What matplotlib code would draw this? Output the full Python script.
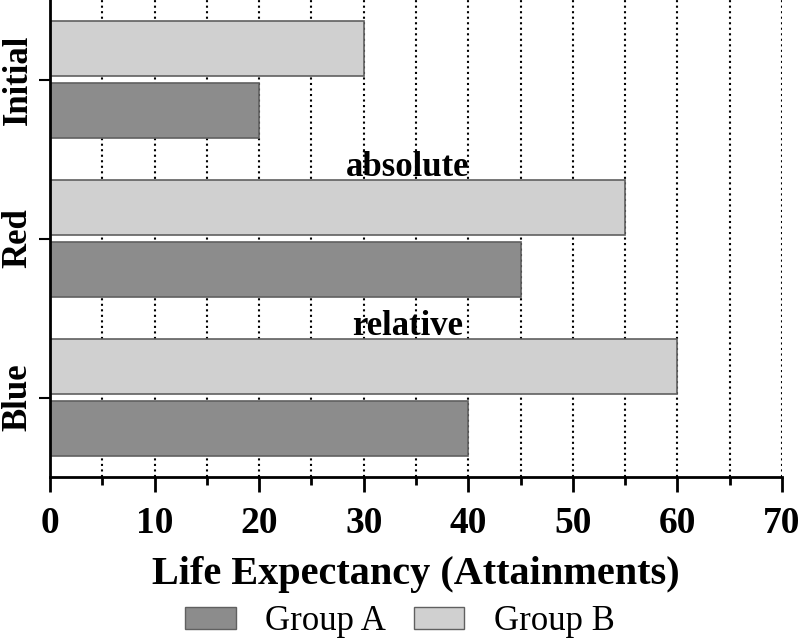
import matplotlib.pyplot as plt
from matplotlib.ticker import MultipleLocator
from matplotlib.patches import Patch

categories = ['Initial', 'Red', 'Blue']
group_a = [20, 45, 40]
group_b = [30, 55, 60]
annotations = {'Red': 'absolute', 'Blue': 'relative'}

color_a = '#8c8c8c'
color_b = '#d0d0d0'
edge = '#606060'

plt.rcParams['font.family'] = ['Liberation Serif', 'DejaVu Serif']

fig = plt.figure(figsize=(8, 6.39), dpi=100)
ax = fig.add_axes([0.0625, 0.2535, 0.915, 0.7465])

pos = [len(categories) - 1 - i for i in range(len(categories))]
h = 0.34
off = 0.195

ax.barh([p - off for p in pos], group_a, height=h, color=color_a,
        edgecolor=edge, linewidth=1.2, label='Group A')
ax.barh([p + off for p in pos], group_b, height=h, color=color_b,
        edgecolor=edge, linewidth=1.2, label='Group B')

for cat, p in zip(categories, pos):
    if cat in annotations:
        ax.text(34.2, p + 0.39, annotations[cat], ha='center',
                va='baseline', fontsize=25, fontweight='bold')

ax.set_xlim(0, 70)
ax.set_ylim(-0.5, 2.5)
ax.set_yticks(pos)
ax.set_yticklabels(categories, rotation=90, va='center', fontsize=25,
                   fontweight='bold')
ax.xaxis.set_major_locator(MultipleLocator(10))
ax.xaxis.set_minor_locator(MultipleLocator(5))
for lab in ax.get_xticklabels():
    lab.set_fontweight('bold')
ax.tick_params(axis='x', which='major', labelsize=27, length=11, width=2, pad=10)
ax.tick_params(axis='x', which='minor', length=6, width=2)
ax.tick_params(axis='y', length=8, width=1.5, pad=3)

ax.grid(True, axis='x', which='both', linestyle=':', color='black', linewidth=1.5)
ax.set_axisbelow(True)

for s in ['top', 'right']:
    ax.spines[s].set_visible(False)
ax.spines['left'].set_linewidth(2)
ax.spines['bottom'].set_linewidth(2)

ax.set_xlabel('Life Expectancy (Attainments)', fontsize=29, fontweight='bold',
              labelpad=11)

handles = [Patch(facecolor=color_a, edgecolor=edge, label='Group A'),
           Patch(facecolor=color_b, edgecolor=edge, label='Group B')]
fig.legend(handles=handles, loc='lower center', bbox_to_anchor=(0.5, -0.02),
           ncol=2, frameon=False, fontsize=25, handlelength=1.45,
           handleheight=0.6, handletextpad=0.85, columnspacing=0.8,
           borderaxespad=0)

fig.savefig('out.png', dpi=100)
